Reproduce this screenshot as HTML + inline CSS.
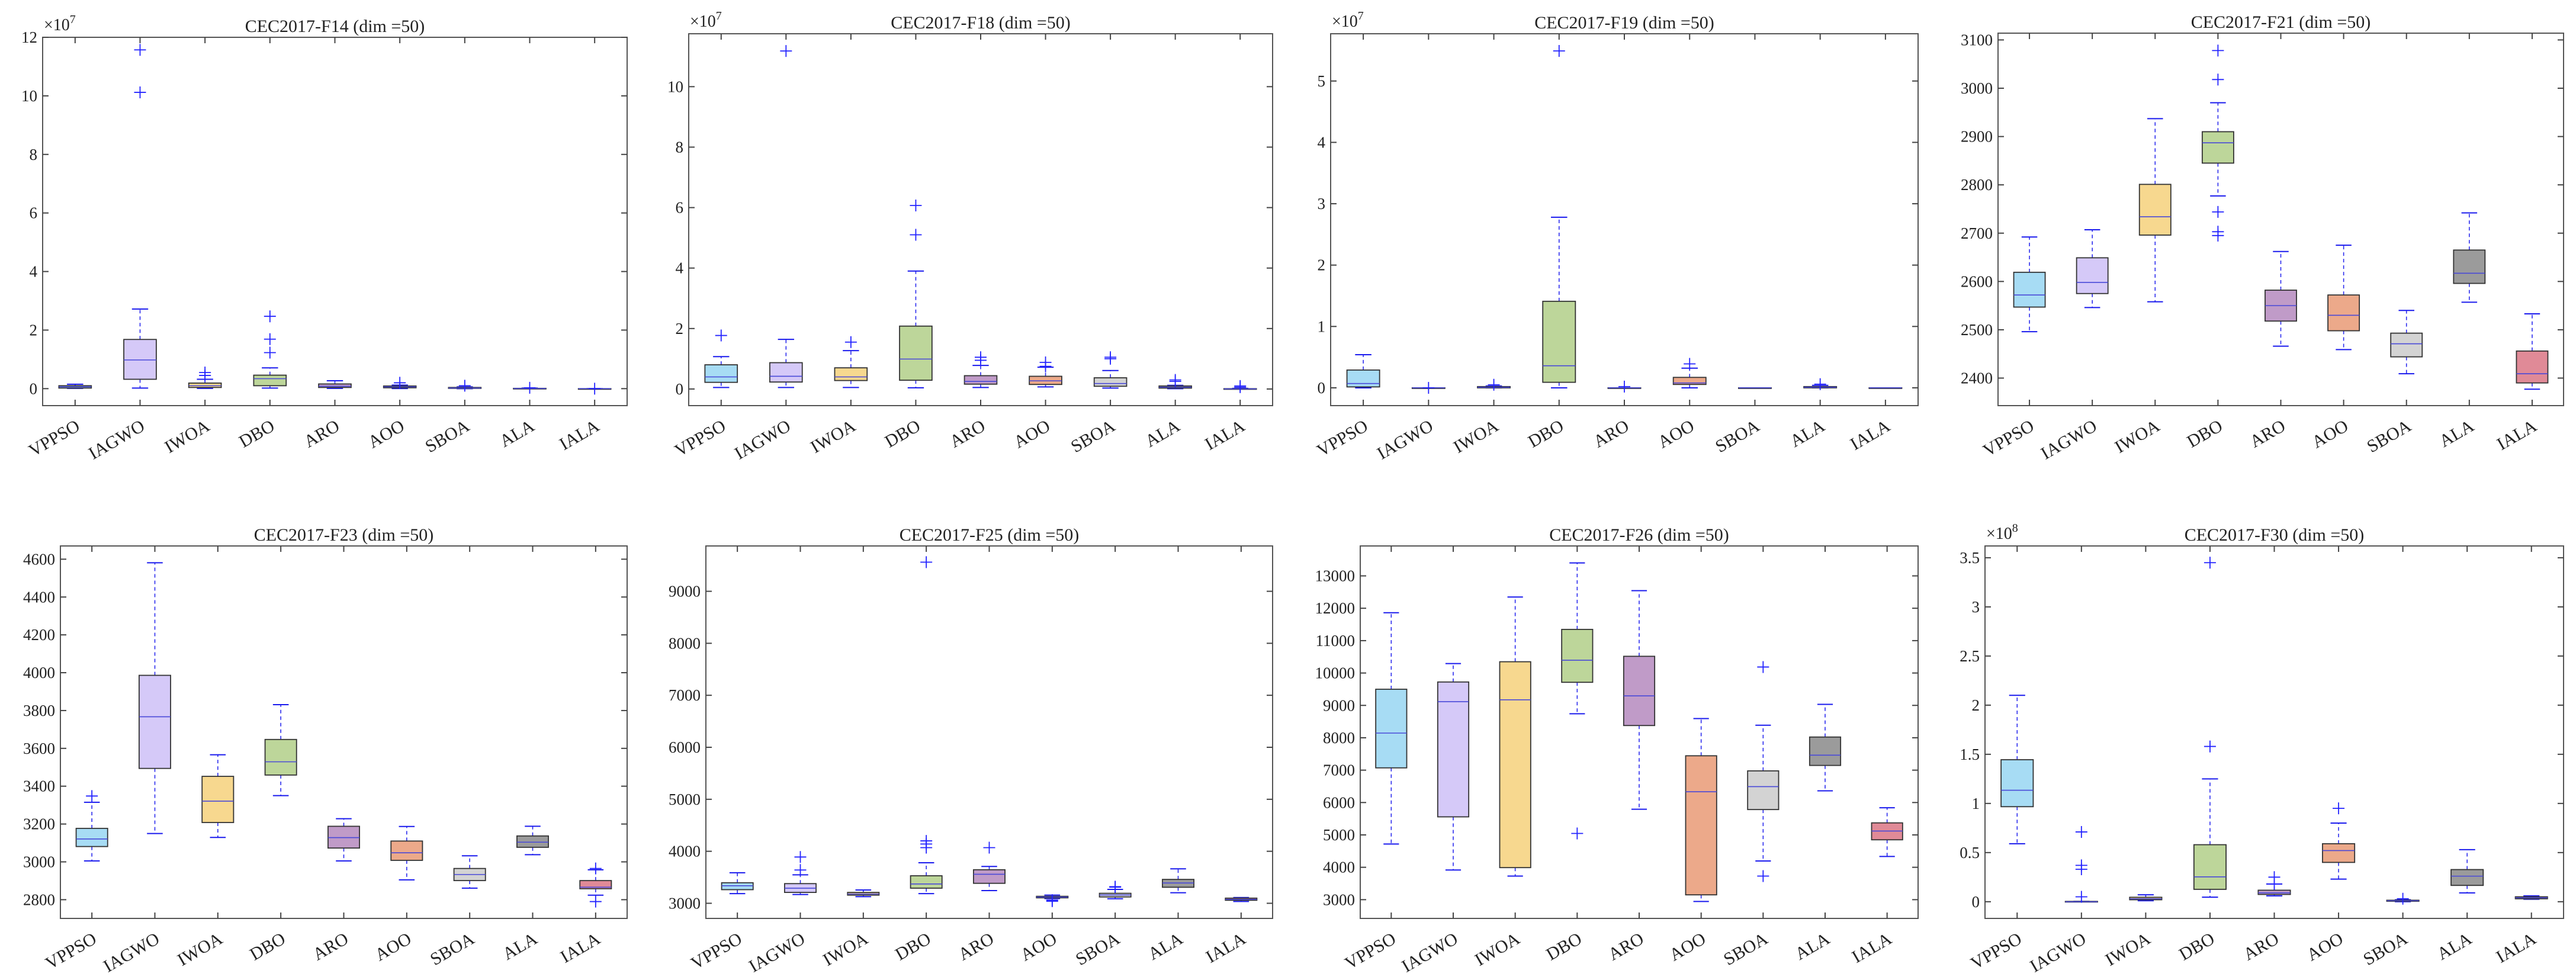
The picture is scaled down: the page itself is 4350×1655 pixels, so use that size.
<!DOCTYPE html>
<html><head><meta charset="utf-8"><style>
html,body{margin:0;padding:0;background:#fff;}
svg{display:block;}
text{font-family:"Liberation Serif","Times New Roman",serif;fill:#222;}
</style></head>
<body>
<svg id="fig" width="4350" height="1655" viewBox="0 0 4350 1655" xmlns="http://www.w3.org/2000/svg"></svg>
<script>
// ---- data ----
const categories = ['VPPSO','IAGWO','IWOA','DBO','ARO','AOO','SBOA','ALA','IALA'];
// each row: [lowWhisker, q1, median, q3, highWhisker]
const f14Stats = [[0.01,0.02,0.06,0.10,0.15],[0.02,0.32,0.98,1.68,2.72],[0.01,0.04,0.10,0.19,0.32],[0.02,0.10,0.34,0.46,0.71],[0.01,0.04,0.08,0.16,0.27],[0.005,0.03,0.06,0.09,0.12],[0,0.01,0.02,0.04,0.06],[0,0,0.005,0.01,0.02],[0,0,0,0,0]];
const f14Outliers = [[],[11.57,10.12],[0.45,0.55],[2.47,1.69,1.23],[],[0.2],[0.1],[0.03],[0]];
const f18Stats = [[0.05,0.22,0.40,0.80,1.07],[0.05,0.23,0.42,0.87,1.64],[0.05,0.28,0.40,0.70,1.27],[0.04,0.29,0.99,2.08,3.90],[0.05,0.16,0.25,0.44,0.78],[0.07,0.15,0.27,0.42,0.72],[0.03,0.09,0.18,0.37,0.61],[0.01,0.03,0.06,0.10,0.12],[0,0,0.005,0.01,0.02]];
const f18Outliers = [[1.77],[11.18],[1.55],[6.07,5.10],[0.95,1.05],[0.75,0.88],[1.0,1.05],[0.25,0.3],[0.06,0.1]];
const f19Stats = [[0,0.015,0.07,0.29,0.54],[0,0,0,0,0],[0,0,0.01,0.02,0.03],[0,0.09,0.36,1.41,2.78],[0,0,0,0,0],[0,0.055,0.08,0.17,0.32],[0,0,0,0,0],[0,0,0.01,0.02,0.04],[0,0,0,0,0]];
const f19Outliers = [[],[0],[0.05],[5.49],[0.02],[0.39],[],[0.06],[]];
const f21Stats = [[2496,2547,2572,2619,2692],[2546,2575,2598,2649,2707],[2558,2696,2734,2801,2937],[2777,2845,2887,2910,2970],[2466,2518,2550,2582,2662],[2459,2498,2530,2572,2675],[2409,2444,2471,2493,2540],[2557,2596,2617,2665,2742],[2377,2390,2409,2456,2533]];
const f21Outliers = [[],[],[],[3078,3018,2744,2703,2695],[],[],[],[],[]];
const f23Stats = [[3005,3081,3121,3177,3315],[3150,3494,3767,3986,4581],[3129,3208,3321,3452,3566],[3350,3459,3529,3647,3831],[3005,3073,3128,3188,3228],[2905,3008,3048,3110,3187],[2861,2901,2933,2965,3032],[3038,3077,3104,3137,3188],[2824,2858,2866,2901,2958]];
const f23Outliers = [[3348],[],[],[],[],[],[],[],[2790,2965]];
const f25Stats = [[3186,3262,3337,3395,3587],[3169,3209,3291,3378,3547],[3128,3157,3180,3209,3256],[3186,3291,3372,3529,3779],[3244,3384,3558,3645,3709],[3090,3105,3120,3134,3157],[3087,3122,3160,3192,3267],[3203,3308,3390,3459,3663],[3035,3058,3075,3099,3110]];
const f25Outliers = [[],[3640,3890],[],[4070,4140,4200,9560],[4070],[3040,3060],[3310,3320],[],[]];
const f26Stats = [[4718,7071,8145,9499,11861],[3915,5558,9116,9723,10292],[3728,3990,9172,10348,12346],[8742,9713,10395,11347,13401],[5792,8378,9293,10516,12543],[2944,3149,6333,7444,8593],[4195,5783,6492,6978,8387],[6361,7146,7463,8023,9032],[4335,4849,5120,5372,5838]];
const f26Outliers = [[],[],[],[5045],[],[],[10185,3728],[],[]];
const f30Stats = [[0.59,0.967,1.134,1.445,2.10],[0,0,0,0.003,0.003],[0.01,0.02,0.03,0.045,0.07],[0.046,0.126,0.253,0.58,1.25],[0.06,0.074,0.09,0.117,0.18],[0.23,0.40,0.52,0.59,0.80],[0,0.005,0.01,0.015,0.02],[0.09,0.166,0.26,0.327,0.53],[0.025,0.03,0.04,0.05,0.06]];
const f30Outliers = [[],[0.05,0.33,0.37,0.71],[],[1.58,3.45],[0.18,0.25],[0.95],[0.03],[],[]];
const f14Ticks = [0,2,4,6,8,10,12];
const f18Ticks = [0,2,4,6,8,10];
const f19Ticks = [0,1,2,3,4,5];
const f21Ticks = [2400,2500,2600,2700,2800,2900,3000,3100];
const f23Ticks = [2800,3000,3200,3400,3600,3800,4000,4200,4400,4600];
const f25Ticks = [3000,4000,5000,6000,7000,8000,9000];
const f26Ticks = [3000,4000,5000,6000,7000,8000,9000,10000,11000,12000,13000];
const f30Ticks = [0,0.5,1,1.5,2,2.5,3,3.5];

// ---- layout / style ----
const fills = ['#a7dcf4','#d5c9f8','#f7d88f','#bdd69a','#c09bc8','#eca98a','#d3d3d3','#9b9b9b','#e08a97'];
const panels = [
 {id:'f14',title:'CEC2017-F14 (dim =50)',L:72,R:1059,T:63,B:685,y0:-0.58,y1:12,exp:'7',stats:f14Stats,out:f14Outliers,ticks:f14Ticks},
 {id:'f18',title:'CEC2017-F18 (dim =50)',L:1163,R:2149,T:57,B:685,y0:-0.55,y1:11.75,exp:'7',stats:f18Stats,out:f18Outliers,ticks:f18Ticks},
 {id:'f19',title:'CEC2017-F19 (dim =50)',L:2247,R:3239,T:57,B:685,y0:-0.29,y1:5.77,exp:'7',stats:f19Stats,out:f19Outliers,ticks:f19Ticks},
 {id:'f21',title:'CEC2017-F21 (dim =50)',L:3374,R:4329,T:56,B:685,y0:2343,y1:3114,exp:null,stats:f21Stats,out:f21Outliers,ticks:f21Ticks},
 {id:'f23',title:'CEC2017-F23 (dim =50)',L:102,R:1059,T:922,B:1551,y0:2701,y1:4670,exp:null,stats:f23Stats,out:f23Outliers,ticks:f23Ticks},
 {id:'f25',title:'CEC2017-F25 (dim =50)',L:1192,R:2149,T:922,B:1551,y0:2709,y1:9872,exp:null,stats:f25Stats,out:f25Outliers,ticks:f25Ticks},
 {id:'f26',title:'CEC2017-F26 (dim =50)',L:2297,R:3239,T:922,B:1551,y0:2421,y1:13924,exp:null,stats:f26Stats,out:f26Outliers,ticks:f26Ticks},
 {id:'f30',title:'CEC2017-F30 (dim =50)',L:3352,R:4329,T:922,B:1551,y0:-0.17,y1:3.62,exp:'8',stats:f30Stats,out:f30Outliers,ticks:f30Ticks}
];
const NS='http://www.w3.org/2000/svg';
const svg=document.getElementById('fig');
function mk(tag,attrs,parent){const e=document.createElementNS(NS,tag);for(const k in attrs)e.setAttribute(k,attrs[k]);parent.appendChild(e);return e;}

panels.forEach(p=>{
  const g=mk('g',{},svg);
  
  
  const sx=i=>p.L+(i+0.5)/categories.length*(p.R-p.L);
  const sy=v=>p.B-(v-p.y0)/(p.y1-p.y0)*(p.B-p.T);
  const sp=(p.R-p.L)/categories.length;
  const hw=sp*0.25, cw=sp*0.125;
  const box=mk('rect',{x:p.L,y:p.T,width:p.R-p.L,height:p.B-p.T,fill:'none',stroke:'#555',"stroke-width":2},g);
  
  
  p.ticks.forEach(t=>{
    const y=sy(t);
    mk('line',{x1:p.L,x2:p.L+10,y1:y,y2:y,stroke:'#444',"stroke-width":2},g);
    mk('line',{x1:p.R,x2:p.R-10,y1:y,y2:y,stroke:'#444',"stroke-width":2},g);
    const tx=mk('text',{x:p.L-9,y:y+9,"text-anchor":"end","font-size":27},g);
    tx.textContent=String(t);
    
    
  });
  categories.forEach((c,i)=>{
    const x=sx(i);
    mk('line',{x1:x,x2:x,y1:p.B,y2:p.B-10,stroke:'#444',"stroke-width":2},g);
    mk('line',{x1:x,x2:x,y1:p.T,y2:p.T+10,stroke:'#444',"stroke-width":2},g);
    const tx=mk('text',{x:0,y:0,"text-anchor":"end","font-size":30,transform:`translate(${x+10},${p.B+40}) rotate(-30)`},g);
    tx.textContent=c;
    
    
  });
  const ti=mk('text',{x:(p.L+p.R)/2,y:p.T-9,"text-anchor":"middle","font-size":30},g);
  ti.textContent=p.title;
  
  
  if(p.exp){
    const ex=mk('text',{x:p.L+2,y:p.T-12,"font-size":28},g);
    ex.textContent='\u00d710';
    
    
    const ts=mk('tspan',{dy:-12,"font-size":20},ex);ts.textContent=p.exp;
  }
  p.stats.forEach((s,i)=>{
    const x=sx(i);
    const bg=mk('g',{},g);
    
    
    const [lw,q1,md,q3,hwv]=s;
    mk('line',{x1:x,x2:x,y1:sy(q3),y2:sy(hwv),stroke:'#2a2aee',"stroke-width":1.6,"stroke-dasharray":"6,5"},bg);
    mk('line',{x1:x,x2:x,y1:sy(q1),y2:sy(lw),stroke:'#2a2aee',"stroke-width":1.6,"stroke-dasharray":"6,5"},bg);
    mk('line',{x1:x-cw,x2:x+cw,y1:sy(hwv),y2:sy(hwv),stroke:'#1a1aee',"stroke-width":2},bg);
    mk('line',{x1:x-cw,x2:x+cw,y1:sy(lw),y2:sy(lw),stroke:'#1a1aee',"stroke-width":2},bg);
    const top=sy(q3),bot=sy(q1);
    mk('rect',{x:x-hw,y:top,width:2*hw,height:Math.max(bot-top,1),fill:fills[i],stroke:'#333',"stroke-width":1.8},bg);
    mk('line',{x1:x-hw,x2:x+hw,y1:sy(md),y2:sy(md),stroke:'#4848d8',"stroke-width":1.6},bg);
    p.out[i].forEach(v=>{
      const y=sy(v);
      const o=mk('path',{d:`M${x-10},${y}H${x+10}M${x},${y-10}V${y+10}`,stroke:'#2222ff',"stroke-width":1.8,fill:'none'},bg);
      
      
    });
  });
});
</script>
</body></html>
